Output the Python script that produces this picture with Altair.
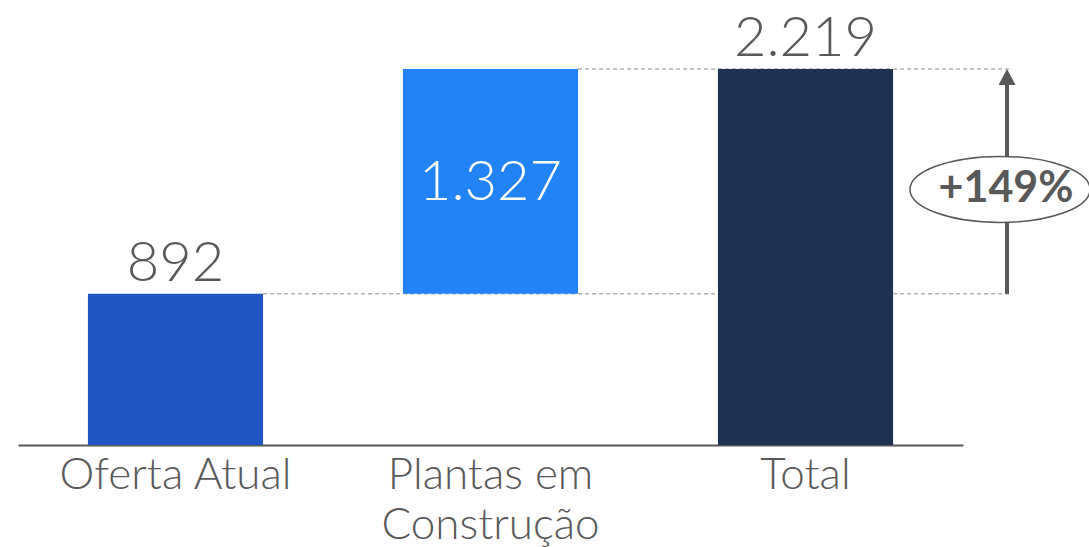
import altair as alt
import pandas as pd

categories = ["Oferta Atual", "Plantas em Construção", "Total"]
starts = [0, 892, 0]
ends = [892, 2219, 2219]
value_labels = ["892", "1.327", "2.219"]
label_place = ["above", "inside", "above"]
colors = ["#2155C4", "#2183F5", "#1E3150"]
growth_label = "+149%"

FONT = "Lato"
GRAY = "#595959"

df = pd.DataFrame({
    "cat": categories,
    "start": starts,
    "end": ends,
    "label": value_labels,
    "place": label_place,
    "color": colors,
})
df["mid"] = (df["start"] + df["end"]) / 2

xscale = alt.Scale(domain=categories, paddingInner=0.444, paddingOuter=0.222)
yscale = alt.Scale(domain=[0, 2626], nice=False, zero=True)

label_expr = (
    "datum.label == 'Plantas em Construção' ? ['Plantas em', 'Construção'] : datum.label"
)

xaxis = alt.Axis(
    labelAngle=0,
    labelFont=FONT,
    labelFontSize=44,
    labelFontWeight=300,
    labelColor=GRAY,
    labelPadding=8,
    labelLineHeight=50,
    labelBaseline="top",
    labelLimit=400,
    labelExpr=label_expr,
    ticks=False,
    domainColor=GRAY,
    domainWidth=2,
    grid=False,
    title=None,
)

base = alt.Chart(df)

guides = base.transform_filter("datum.cat != 'Total'").mark_rule(
    strokeDash=[4, 3], color="#8C8C8C", strokeWidth=1
).encode(
    x=alt.X("cat:N", scale=xscale, sort=categories, bandPosition=1, axis=xaxis),
    x2=alt.value(994),
    y=alt.Y("end:Q", scale=yscale, axis=None),
)

bars = base.mark_bar().encode(
    x=alt.X("cat:N", scale=xscale, sort=categories, axis=xaxis),
    y=alt.Y("start:Q", scale=yscale, axis=None),
    y2="end:Q",
    color=alt.Color("color:N", scale=None),
)

above = base.transform_filter("datum.place == 'above'").mark_text(
    font=FONT, fontSize=56, fontWeight=300, color=GRAY, baseline="alphabetic", dy=-13
).encode(
    x=alt.X("cat:N", scale=xscale, sort=categories, bandPosition=0.5, axis=xaxis),
    y=alt.Y("end:Q", scale=yscale, axis=None),
    text="label:N",
)

inside = base.transform_filter("datum.place == 'inside'").mark_text(
    font=FONT, fontSize=56, fontWeight=300, color="white", baseline="alphabetic", dy=19
).encode(
    x=alt.X("cat:N", scale=xscale, sort=categories, bandPosition=0.5, axis=xaxis),
    y=alt.Y("mid:Q", scale=yscale, axis=None),
    text="label:N",
)

growth = base.transform_filter("datum.cat == 'Plantas em Construção'")

arrow_line = growth.mark_rule(
    color=GRAY, strokeWidth=4, y2Offset=14
).encode(
    x=alt.value(989),
    y=alt.Y("start:Q", scale=yscale, axis=None),
    y2="end:Q",
)

arrow_head = growth.mark_point(
    shape="M 0 -0.94 L 1 0.94 L -1 0.94 Z", size=289, filled=True, color=GRAY,
    opacity=1, yOffset=8,
).encode(
    x=alt.value(989),
    y=alt.Y("end:Q", scale=yscale, axis=None),
)

ellipse = growth.mark_point(
    shape="M -1 0 A 1 0.367 0 1 1 1 0 A 1 0.367 0 1 1 -1 0 Z",
    size=32400, filled=False, fill="white", fillOpacity=1, stroke=GRAY,
    strokeWidth=1.5, opacity=1, yOffset=8,
).encode(
    x=alt.value(982),
    y=alt.Y("mid:Q", scale=yscale, axis=None),
)

pct = growth.mark_text(
    font=FONT, fontSize=43, fontWeight="bold", color=GRAY, baseline="middle", yOffset=8, dx=6,
).encode(
    x=alt.value(982),
    y=alt.Y("mid:Q", scale=yscale, axis=None),
    text=alt.value(growth_label),
)

chart = alt.layer(guides, bars, above, inside, arrow_line, arrow_head, ellipse, pct).properties(
    width=945,
    height=445,
    background="white",
    autosize=alt.AutoSizeParams(type="none"),
    padding={"left": 18, "top": 0, "right": 126, "bottom": 102},
).configure_view(stroke=None)

chart.save("out.html", embed_options={"renderer": "svg", "actions": False})
